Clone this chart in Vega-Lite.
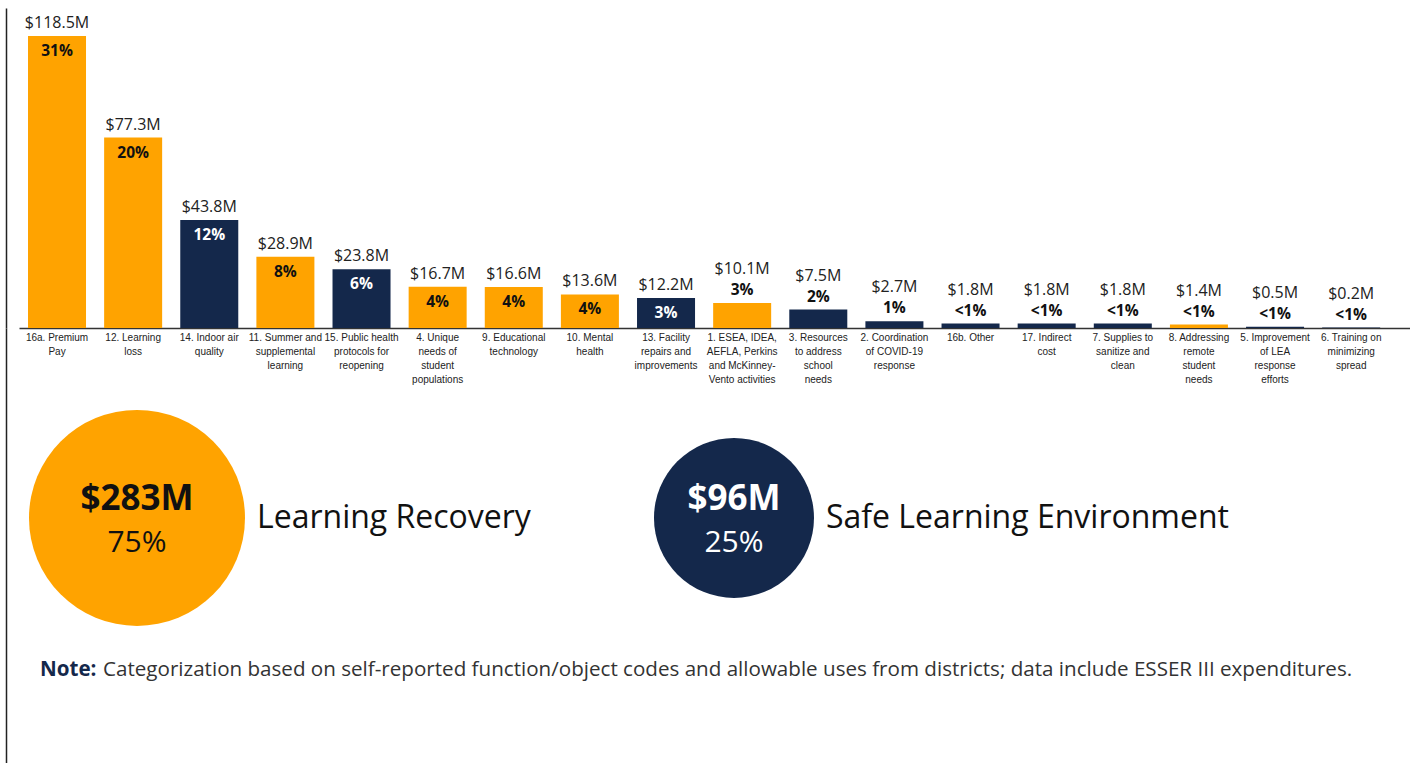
{
  "$schema": "https://vega.github.io/schema/vega-lite/v6.json",
  "padding": {"left": 6, "top": 8, "right": 0, "bottom": 0},
  "spacing": 0,
  "bounds": "flush",
  "config": {"font": "Open Sans", "view": {"stroke": null}},
  "datasets": {
    "bars": [
      {"cat": "16a. Premium|Pay", "amount": 118.5, "label": "$118.5M", "pct": "31%", "area": "Learning Recovery"},
      {"cat": "12. Learning|loss", "amount": 77.3, "label": "$77.3M", "pct": "20%", "area": "Learning Recovery"},
      {"cat": "14. Indoor air|quality", "amount": 43.8, "label": "$43.8M", "pct": "12%", "area": "Safe Learning Environment"},
      {"cat": "11. Summer and|supplemental|learning", "amount": 28.9, "label": "$28.9M", "pct": "8%", "area": "Learning Recovery"},
      {"cat": "15. Public health|protocols for|reopening", "amount": 23.8, "label": "$23.8M", "pct": "6%", "area": "Safe Learning Environment"},
      {"cat": "4. Unique|needs of|student|populations", "amount": 16.7, "label": "$16.7M", "pct": "4%", "area": "Learning Recovery"},
      {"cat": "9. Educational|technology", "amount": 16.6, "label": "$16.6M", "pct": "4%", "area": "Learning Recovery"},
      {"cat": "10. Mental|health", "amount": 13.6, "label": "$13.6M", "pct": "4%", "area": "Learning Recovery"},
      {"cat": "13. Facility|repairs and|improvements", "amount": 12.2, "label": "$12.2M", "pct": "3%", "area": "Safe Learning Environment"},
      {"cat": "1. ESEA, IDEA,|AEFLA, Perkins|and McKinney-|Vento activities", "amount": 10.1, "label": "$10.1M", "pct": "3%", "area": "Learning Recovery"},
      {"cat": "3. Resources|to address|school|needs", "amount": 7.5, "label": "$7.5M", "pct": "2%", "area": "Safe Learning Environment"},
      {"cat": "2. Coordination|of COVID-19|response", "amount": 2.7, "label": "$2.7M", "pct": "1%", "area": "Safe Learning Environment"},
      {"cat": "16b.  Other", "amount": 1.8, "label": "$1.8M", "pct": "<1%", "area": "Safe Learning Environment"},
      {"cat": "17. Indirect|cost", "amount": 1.8, "label": "$1.8M", "pct": "<1%", "area": "Safe Learning Environment"},
      {"cat": "7. Supplies to|sanitize and|clean", "amount": 1.8, "label": "$1.8M", "pct": "<1%", "area": "Safe Learning Environment"},
      {"cat": "8. Addressing|remote|student|needs", "amount": 1.4, "label": "$1.4M", "pct": "<1%", "area": "Learning Recovery"},
      {"cat": "5. Improvement|of LEA|response|efforts", "amount": 0.5, "label": "$0.5M", "pct": "<1%", "area": "Safe Learning Environment"},
      {"cat": "6. Training on|minimizing|spread", "amount": 0.2, "label": "$0.2M", "pct": "<1%", "area": "Safe Learning Environment"}
    ],
    "groups": [
      {"group": "Learning Recovery", "amount": "$283M", "pct": "75%", "share": 75, "row": "summary"},
      {"group": "Safe Learning Environment", "amount": "$96M", "pct": "25%", "share": 25, "row": "summary"}
    ],
    "note": [
      {"row": "note", "lead": "Note:", "text": "Categorization based on self-reported function/object codes and allowable uses from districts; data include ESSER III expenditures."}
    ]
  },
  "vconcat": [
    {
      "width": 1391,
      "height": 320,
      "data": {"name": "bars"},
      "encoding": {
        "x": {
          "field": "cat", "type": "nominal", "sort": null,
          "scale": {"paddingInner": 0.238, "paddingOuter": 0.255, "align": 0.232},
          "axis": {
            "title": null, "ticks": false, "labelAngle": 0,
            "labelExpr": "split(datum.label, '|')",
            "labelFont": "Liberation Sans",
            "labelFontSize": 10, "labelColor": "#222", "labelLineHeight": 14,
            "labelPadding": 4, "labelLimit": 0, "labelOverlap": false, "labelBound": false,
            "labelBaseline": "top", "domainColor": "#333", "domainWidth": 1.5
          }
        },
        "y": {
          "field": "amount", "type": "quantitative",
          "scale": {"domain": [0, 129.86], "nice": false},
          "axis": {"title": null, "ticks": false, "labels": false, "grid": false, "offset": 13, "domainColor": "#222", "domainWidth": 1.5}
        }
      },
      "layer": [
        {
          "mark": {"type": "bar"},
          "encoding": {
            "color": {"field": "area", "type": "nominal", "legend": null,
              "scale": {"domain": ["Learning Recovery", "Safe Learning Environment"], "range": ["#FFA300", "#14284B"]}}
          }
        },
        {
          "transform": [{"filter": "datum.amount > 11"}],
          "mark": {"type": "text", "dy": -13, "fontSize": 16, "color": "#222"},
          "encoding": {"text": {"field": "label"}}
        },
        {
          "transform": [{"filter": "datum.amount > 11"}],
          "mark": {"type": "text", "dy": 15, "fontSize": 15.5, "fontWeight": "bold"},
          "encoding": {
            "text": {"field": "pct"},
            "color": {"condition": {"test": "datum.area === 'Safe Learning Environment'", "value": "#ffffff"}, "value": "#111111"}
          }
        },
        {
          "transform": [{"filter": "datum.amount < 11"}],
          "mark": {"type": "text", "dy": -34, "fontSize": 16, "color": "#222"},
          "encoding": {"text": {"field": "label"}}
        },
        {
          "transform": [{"filter": "datum.amount < 11"}],
          "mark": {"type": "text", "dy": -13, "fontSize": 15.5, "fontWeight": "bold", "color": "#111"},
          "encoding": {"text": {"field": "pct"}}
        }
      ]
    },
    {
      "width": 1391,
      "height": 435,
      "encoding": {
        "x": {"field": "group", "type": "nominal", "axis": null,
          "scale": {"type": "point", "domain": ["Learning Recovery", "Safe Learning Environment"], "padding": 0.665, "align": 0.1486}},
        "y": {
          "field": "row", "type": "nominal",
          "scale": {"type": "point", "domain": ["summary", "note"], "padding": 0.931, "align": 0.671},
          "axis": {"title": null, "ticks": false, "labels": false, "grid": false, "offset": 13, "domainColor": "#222", "domainWidth": 1.5}
        }
      },
      "layer": [
        {
          "data": {"name": "groups"},
          "mark": {"type": "point", "shape": "circle", "filled": true, "opacity": 1, "strokeWidth": 0},
          "encoding": {
            "color": {"field": "group", "type": "nominal", "legend": null,
              "scale": {"domain": ["Learning Recovery", "Safe Learning Environment"], "range": ["#FFA300", "#14284B"]}},
            "size": {"field": "share", "type": "quantitative", "legend": null,
              "scale": {"type": "linear", "domain": [25, 75], "range": [25600, 46656], "zero": false}}
          }
        },
        {
          "data": {"name": "groups"},
          "mark": {"type": "text", "dy": -19, "fontSize": 35, "fontWeight": "bold"},
          "encoding": {
            "text": {"field": "amount"},
            "color": {"condition": {"test": "datum.group === 'Safe Learning Environment'", "value": "#ffffff"}, "value": "#111111"}
          }
        },
        {
          "data": {"name": "groups"},
          "mark": {"type": "text", "dy": 25, "fontSize": 30},
          "encoding": {
            "text": {"field": "pct"},
            "color": {"condition": {"test": "datum.group === 'Safe Learning Environment'", "value": "#ffffff"}, "value": "#111111"}
          }
        },
        {
          "data": {"name": "groups"},
          "transform": [{"filter": "datum.group === 'Learning Recovery'"}],
          "mark": {"type": "text", "align": "left", "dx": 120, "fontSize": 32, "color": "#111"},
          "encoding": {"text": {"field": "group"}}
        },
        {
          "data": {"name": "groups"},
          "transform": [{"filter": "datum.group === 'Safe Learning Environment'"}],
          "mark": {"type": "text", "align": "left", "dx": 92, "fontSize": 32, "color": "#111"},
          "encoding": {"text": {"field": "group"}}
        },
        {
          "data": {"name": "note"},
          "mark": {"type": "text", "align": "left", "dx": -97, "fontSize": 20.6, "fontWeight": "bold", "color": "#14284B"},
          "encoding": {"x": {"datum": "Learning Recovery", "type": "nominal"}, "text": {"field": "lead"}}
        },
        {
          "data": {"name": "note"},
          "mark": {"type": "text", "align": "left", "dx": -34, "fontSize": 20.6, "color": "#333"},
          "encoding": {"x": {"datum": "Learning Recovery", "type": "nominal"}, "text": {"field": "text"}}
        }
      ]
    }
  ]
}
